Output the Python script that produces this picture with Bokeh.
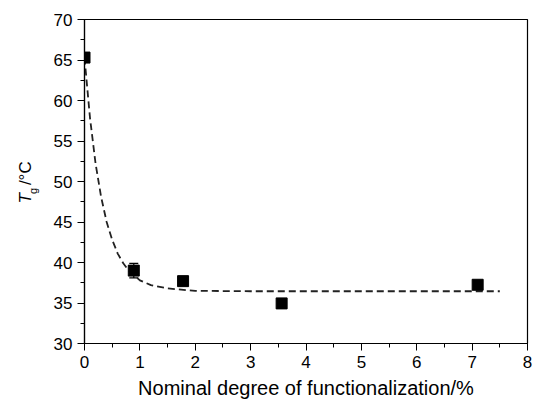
import math
from bokeh.plotting import figure
from bokeh.layouts import row
from bokeh.models import Range1d, SingleIntervalTicker, Whisker, ColumnDataSource, TeeHead
from bokeh.core.properties import value
from bokeh.embed import file_html
from bokeh.resources import INLINE

deg = [0.0, 0.89, 1.78, 3.56, 7.1]
tg = [65.3, 39.0, 37.7, 34.95, 37.25]
tg_err = [0.3, 0.9, 0.3, 0.5, 0.3]

fit_x = [0.0, 0.1, 0.2, 0.3, 0.4, 0.5, 0.6, 0.7, 0.8, 1.0, 1.2, 1.5, 2.0, 3.0, 5.0, 7.5]
fit_y = [65.3, 57.8, 52.2, 48.1, 45.0, 42.8, 41.1, 39.9, 39.0, 37.8, 37.2, 36.8, 36.5, 36.45, 36.45, 36.45]

FONT = "Liberation Sans"
W, H = 533, 403
LW = 44  # width of the y-label strip

p = figure(width=W - LW, height=H, output_backend="svg", toolbar_location=None,
           x_range=Range1d(0, 8), y_range=Range1d(30, 70),
           min_border_left=84 - LW, min_border_right=6, min_border_top=19, min_border_bottom=60)
p.xgrid.visible = False
p.ygrid.visible = False
p.outline_line_color = "black"
p.outline_line_width = 1.2

p.xaxis.ticker = SingleIntervalTicker(interval=1, num_minor_ticks=2)
p.yaxis.ticker = SingleIntervalTicker(interval=5, num_minor_ticks=2)
for ax in (p.xaxis, p.yaxis):
    ax.axis_line_color = "black"
    ax.axis_line_width = 1.2
    ax.major_tick_line_color = "black"
    ax.minor_tick_line_color = "black"
    ax.major_tick_out = 7
    ax.major_tick_in = 0
    ax.minor_tick_out = 4
    ax.minor_tick_in = 0
    ax.major_label_text_font = FONT
    ax.major_label_text_font_size = "17px"
    ax.major_label_text_color = "black"
    ax.axis_label_text_font = FONT
    ax.axis_label_text_font_style = "normal"
    ax.axis_label_text_color = "black"
p.yaxis.major_label_standoff = 5
p.xaxis.major_label_standoff = 5
p.xaxis.axis_label = "Nominal degree of functionalization/%"
p.xaxis.axis_label_text_font_size = "20px"
p.xaxis.axis_label_standoff = 6

p.line(fit_x, fit_y, line_color="#222222", line_width=1.8, line_dash="7 4")

lower = [v - e for v, e in zip(tg, tg_err)]
upper = [v + e for v, e in zip(tg, tg_err)]
src = ColumnDataSource(dict(x=deg, lower=lower, upper=upper))
p.add_layout(Whisker(source=src, base="x", lower="lower", upper="upper", line_color="black", line_width=1.2,
                     lower_head=TeeHead(size=9, line_color="black", line_width=1.2),
                     upper_head=TeeHead(size=9, line_color="black", line_width=1.2)))

p.scatter(deg, tg, marker="square", size=11, fill_color="black", line_color="black")

# y-axis label strip: T_g/°C (rotated)
lab = figure(width=LW, height=H, output_backend="svg", toolbar_location=None,
             x_range=Range1d(0, LW), y_range=Range1d(0, H),
             x_axis_type=None, y_axis_type=None,
             min_border_left=0, min_border_right=0, min_border_top=0, min_border_bottom=0)
lab.xgrid.visible = False
lab.ygrid.visible = False
lab.outline_line_color = None

def sy(py):
    return H - py

lab.text(x=[25], y=[sy(229)], text=["T"], angle=math.pi / 2, text_font=value(FONT),
         text_font_size="17px", text_font_style="italic", text_baseline="alphabetic",
         text_align="left", text_color="black")
lab.text(x=[32], y=[sy(217)], text=["g"], angle=math.pi / 2, text_font=value(FONT),
         text_font_size="11px", text_baseline="alphabetic", text_align="left", text_color="black")
lab.text(x=[25], y=[sy(206)], text=["/°C"], angle=math.pi / 2, text_font=value(FONT),
         text_font_size="17px", text_baseline="alphabetic", text_align="left", text_color="black")

layout = row(lab, p, spacing=0)
open("out.html", "w").write(file_html(layout, INLINE))
